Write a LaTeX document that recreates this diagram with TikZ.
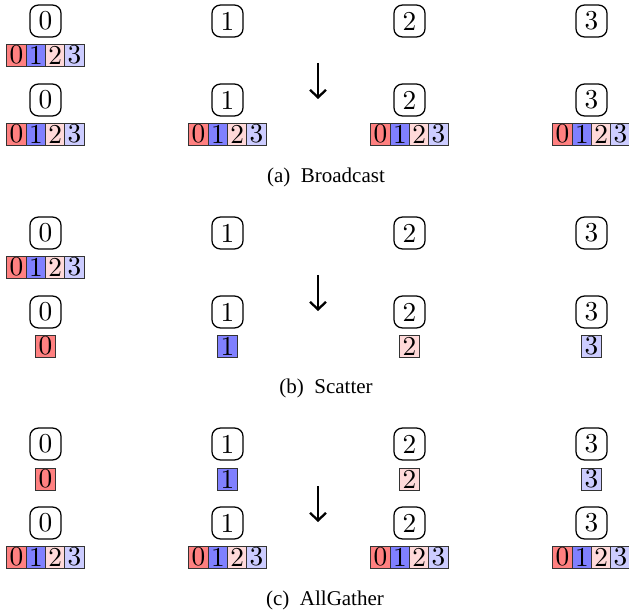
\documentclass[tikz,border=0pt]{standalone}
\usepackage{fontspec}
\newfontfamily\capfont{Liberation Serif}
\newfontfamily\digitfont{lmroman10-regular}[Extension=.otf]
\usetikzlibrary{arrows.meta}
\definecolor{part0}{RGB}{255,128,128}
\definecolor{part1}{RGB}{128,128,255}
\definecolor{part2}{RGB}{255,217,217}
\definecolor{part3}{RGB}{204,204,255}

% one row of the four data parts under a rank
\newcommand\partrow[3]{%
  \foreach \k in {0,1,2,3}
    \node[part, fill=part\k] (#1-\k) at ({#2+(\k-1.5)*19.32}, #3) {\k};%
}
% a single data part under a rank
\newcommand\onepart[4]{%
  \node[part, fill=part#4] (#1) at (#2, #3) {#4};%
}

\begin{document}
\begin{tikzpicture}[x=0.47619pt, y=-0.47619pt,
  rank/.style={draw, line width=0.6pt, rounded corners=4pt,
    minimum width=14.8pt, minimum height=15.2pt, inner sep=0pt,
    font=\digitfont\fontsize{13}{16}\selectfont},
  part/.style={draw=black!80, line width=0.4pt,
    minimum width=9.2pt, minimum height=10.5pt, inner sep=0pt,
    font=\digitfont\fontsize{13}{16}\selectfont},
  flow/.style={line width=1.3pt,
    -{Straight Barb[length=3.6pt, width=7.6pt, line width=1.1pt]}},
  caption/.style={anchor=base, font=\capfont\fontsize{10}{12}\selectfont}]
\useasboundingbox (0,0) rectangle (629,616);

% ---------------- (a) Broadcast ----------------
\foreach \r/\x in {0/45.5,1/227.5,2/409.5,3/591.5} {
  \node[rank] (a-top-\r) at (\x,21) {\r};
  \node[rank] (a-bot-\r) at (\x,100) {\r};
}
\partrow{a-top-d0}{45.5}{55}
\partrow{a-bot-d0}{45.5}{134}
\partrow{a-bot-d1}{227.5}{134}
\partrow{a-bot-d2}{409.5}{134}
\partrow{a-bot-d3}{591.5}{134}
\coordinate (a-from) at (318,63);
\coordinate (a-to) at (318,99);
\draw[flow] (a-from) -- (a-to);
\node[caption] (a-cap) at (326,183) {(a)\enspace Broadcast};

% ---------------- (b) Scatter ----------------
\foreach \r/\x in {0/45.5,1/227.5,2/409.5,3/591.5} {
  \node[rank] (b-top-\r) at (\x,233) {\r};
  \node[rank] (b-bot-\r) at (\x,312) {\r};
}
\partrow{b-top-d0}{45.5}{267}
\onepart{b-bot-d0}{45.5}{346}{0}
\onepart{b-bot-d1}{227.5}{346}{1}
\onepart{b-bot-d2}{409.5}{346}{2}
\onepart{b-bot-d3}{591.5}{346}{3}
\coordinate (b-from) at (318,275);
\coordinate (b-to) at (318,311);
\draw[flow] (b-from) -- (b-to);
\node[caption] (b-cap) at (326,393) {(b)\enspace Scatter};

% ---------------- (c) AllGather ----------------
\foreach \r/\x in {0/45.5,1/227.5,2/409.5,3/591.5} {
  \node[rank] (c-top-\r) at (\x,444) {\r};
  \node[rank] (c-bot-\r) at (\x,523) {\r};
}
\onepart{c-top-d0}{45.5}{479}{0}
\onepart{c-top-d1}{227.5}{479}{1}
\onepart{c-top-d2}{409.5}{479}{2}
\onepart{c-top-d3}{591.5}{479}{3}
\partrow{c-bot-d0}{45.5}{557}
\partrow{c-bot-d1}{227.5}{557}
\partrow{c-bot-d2}{409.5}{557}
\partrow{c-bot-d3}{591.5}{557}
\coordinate (c-from) at (318,486);
\coordinate (c-to) at (318,522);
\draw[flow] (c-from) -- (c-to);
\node[caption] (c-cap) at (325,605) {(c)\enspace AllGather};
\end{tikzpicture}
\end{document}
